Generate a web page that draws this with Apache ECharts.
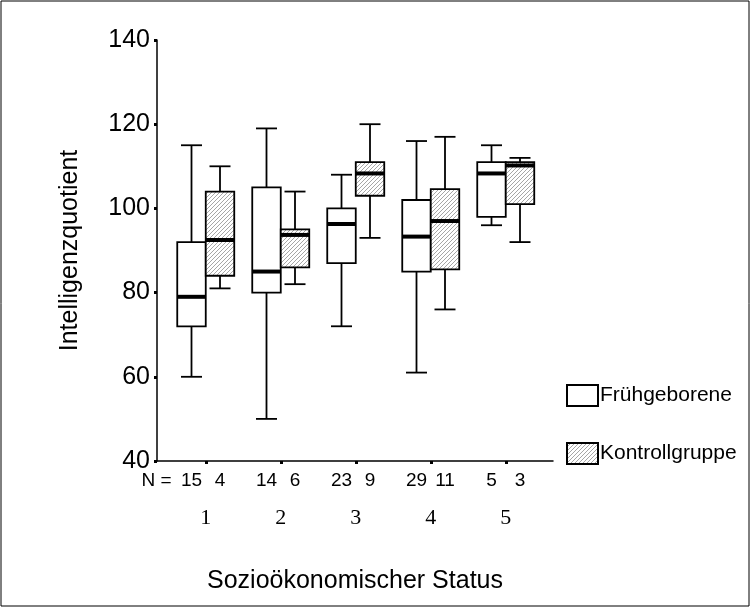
<!DOCTYPE html>
<html><head><meta charset="utf-8">
<script src="https://cdn.jsdelivr.net/npm/echarts@6/dist/echarts.min.js"></script>
<style>html,body{margin:0;padding:0;background:#fff}#c{width:751px;height:608px}</style>
</head><body><div id="c"></div>
<script>
const categories = ['1', '2', '3', '4', '5'];
const categoryPos = [1, 2, 3, 4, 5];
const groups = ['Frühgeborene', 'Kontrollgruppe'];
// [lower whisker, Q1, median, Q3, upper whisker]
const fruehStats = [
  [60, 72, 79, 92, 115],
  [50, 80, 85, 105, 119],
  [72, 87, 96.3, 100, 108],
  [61, 85, 93.3, 102, 116],
  [96, 98, 108.3, 111, 115]
];
const kontrollStats = [
  [81, 84, 92.5, 104, 110],
  [82, 86, 93.7, 95, 104],
  [93, 103, 108.3, 111, 120],
  [76, 85.5, 97, 104.6, 117],
  [92, 101, 110.2, 111, 112]
];
const fruehN = [15, 14, 23, 29, 5];
const kontrollN = [4, 6, 9, 11, 3];
const yTicks = [40, 60, 80, 100, 120, 140];

const BOX_W = 0.38, CAP_W = 0.28, OFF = 0.19;
const SANS = '"Liberation Sans", Arial, sans-serif';

// hatch pattern
const pc = document.createElement('canvas');
pc.width = 4; pc.height = 4;
const pctx = pc.getContext('2d');
pctx.fillStyle = '#ffffff'; pctx.fillRect(0, 0, 4, 4);
pctx.fillStyle = '#a6a6a6';
for (let i = 0; i < 4; i++) pctx.fillRect(i, 3 - i, 1, 1);
const hatch = { image: pc, repeat: 'repeat' };

function toData(stats) {
  return stats.map((s, i) => [categoryPos[i]].concat(s));
}

function boxRender(offset, fill) {
  return function (params, api) {
    const x = api.value(0) + offset;
    const lo = api.coord([x, api.value(1)]);
    const q1 = api.coord([x, api.value(2)]);
    const med = api.coord([x, api.value(3)]);
    const q3 = api.coord([x, api.value(4)]);
    const hi = api.coord([x, api.value(5)]);
    const half = api.size([BOX_W, 0])[0] / 2;
    const cap = api.size([CAP_W, 0])[0] / 2;
    const ls = { stroke: '#000', lineWidth: 1.8 };
    return {
      type: 'group',
      children: [
        { type: 'line', shape: { x1: lo[0], y1: lo[1], x2: hi[0], y2: hi[1] }, style: ls },
        { type: 'line', shape: { x1: lo[0] - cap, y1: lo[1], x2: lo[0] + cap, y2: lo[1] }, style: ls },
        { type: 'line', shape: { x1: hi[0] - cap, y1: hi[1], x2: hi[0] + cap, y2: hi[1] }, style: ls },
        { type: 'rect', shape: { x: q3[0] - half, y: q3[1], width: half * 2, height: q1[1] - q3[1] },
          style: { fill: fill, stroke: '#000', lineWidth: 1.8 } },
        { type: 'line', shape: { x1: med[0] - half, y1: med[1], x2: med[0] + half, y2: med[1] },
          style: { stroke: '#000', lineWidth: 4 } }
      ]
    };
  };
}

function nRender(params, api) {
  const x = api.value(0);
  const base = api.coord([x, 40]);
  const a = api.coord([x - OFF, 40]);
  const b = api.coord([x + OFF, 40]);
  const ts = { fill: '#000', font: '19px ' + SANS, align: 'center', verticalAlign: 'middle' };
  const children = [
    { type: 'text', x: a[0], y: base[1] + 20, style: Object.assign({ text: String(api.value(1)) }, ts) },
    { type: 'text', x: b[0], y: base[1] + 20, style: Object.assign({ text: String(api.value(2)) }, ts) }
  ];
  if (params.dataIndex === 0) {
    children.push({ type: 'text', x: a[0] - 20, y: base[1] + 20,
      style: Object.assign({}, ts, { text: 'N =', align: 'right' }) });
  }
  return { type: 'group', children: children };
}

const chart = echarts.init(document.getElementById('c'), null, { renderer: 'canvas' });
chart.setOption({
  backgroundColor: '#fff',
  animation: false,
  grid: { left: 157, right: 198, top: 40, bottom: 147 },
  legend: {
    orient: 'vertical', left: 566, top: 384, itemWidth: 31, itemHeight: 21, itemGap: 35,
    padding: 0, icon: 'rect',
    textStyle: { fontSize: 21, color: '#000', fontFamily: SANS, padding: [0, 0, 0, -3] },
    data: groups
  },
  xAxis: {
    type: 'value', min: 0.35, max: 5.63,
    axisLine: { show: true, lineStyle: { color: '#000', width: 1.5 } },
    axisTick: { show: true, customValues: categoryPos, length: 3, lineStyle: { color: '#000', width: 3 } },
    axisLabel: { show: true, customValues: categoryPos, formatter: v => categories[categoryPos.indexOf(v)] || '',
      margin: 46, fontSize: 22, color: '#000', fontFamily: '"Liberation Serif", "Times New Roman", serif' },
    splitLine: { show: false },
    name: 'Sozioökonomischer Status', nameLocation: 'middle', nameGap: 108,
    nameTextStyle: { fontSize: 25, color: '#000', fontFamily: SANS }
  },
  yAxis: {
    type: 'value', min: yTicks[0], max: yTicks[yTicks.length - 1], interval: 20,
    axisLine: { show: true, lineStyle: { color: '#000', width: 1.5 } },
    axisTick: { show: true, length: 3, lineStyle: { color: '#000', width: 3 } },
    axisLabel: { margin: 7, fontSize: 25, color: '#000', fontFamily: SANS },
    splitLine: { show: false },
    name: 'Intelligenzquotient', nameLocation: 'middle', nameGap: 74, nameRotate: 90,
    nameTextStyle: { fontSize: 25, color: '#000', fontFamily: SANS }
  },
  graphic: [
    { type: 'rect', shape: { x: 1, y: 1, width: 748, height: 605 }, style: { fill: 'none', stroke: '#000', lineWidth: 1 }, silent: true }
  ],
  series: [
    { name: groups[0], type: 'custom', renderItem: boxRender(-OFF, '#fff'), data: toData(fruehStats),
      itemStyle: { color: '#fff', borderColor: '#000', borderWidth: 1.8 }, encode: { x: 0, y: [1, 2, 3, 4, 5] } },
    { name: groups[1], type: 'custom', renderItem: boxRender(OFF, hatch), data: toData(kontrollStats),
      itemStyle: { color: hatch, borderColor: '#000', borderWidth: 1.8 }, encode: { x: 0, y: [1, 2, 3, 4, 5] } },
    { name: 'N', type: 'custom', renderItem: nRender, clip: false,
      data: categoryPos.map((p, i) => [p, fruehN[i], kontrollN[i]]), encode: { x: 0, y: -1 }, silent: true }
  ]
});
</script></body></html>
